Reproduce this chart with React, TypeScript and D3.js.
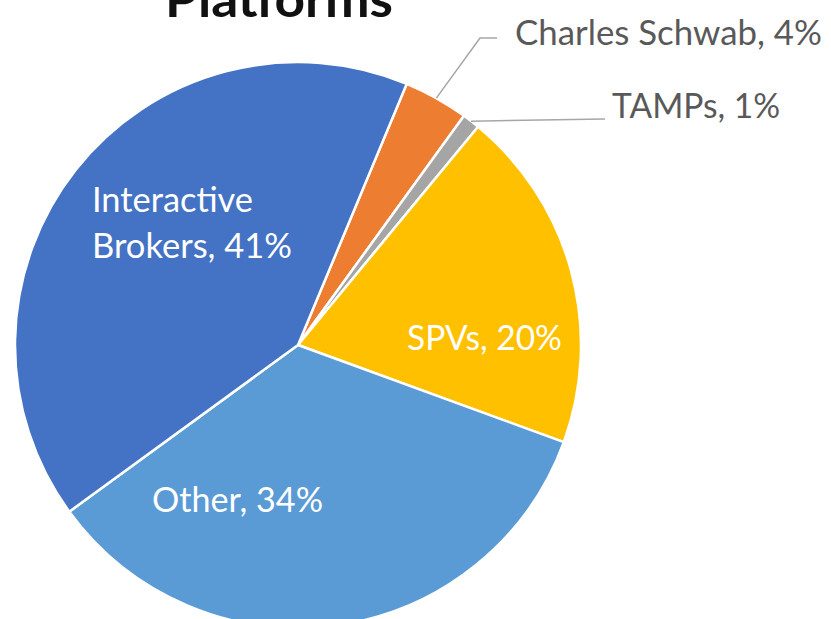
import React from "react";
import * as d3 from "d3";

const categories = ["Charles Schwab", "TAMPs", "SPVs", "Other", "Interactive Brokers"];
const values = [3.7, 1.0, 19.6, 34.4, 41.3];
const colors = ["#ED7D31", "#A5A5A5", "#FFC000", "#5B9BD5", "#4472C4"];
const titleText = "Platforms";

const W = 831;
const H = 619;
const cx = 298;
const cy = 345;
const R = 283;
const startDeg = 22.6;

// label layout: lines with left x, baseline y, width; inside flag; leader elbow
const labelLayout = [
  { lines: [{ x: 515, y: 45, w: 307 }], inside: false, leader: [[480, 38], [497, 38]] },
  { lines: [{ x: 612, y: 118, w: 168 }], inside: false, leader: [[605, 119]] },
  { lines: [{ x: 407, y: 350, w: 155 }], inside: true, leader: null },
  { lines: [{ x: 152, y: 512, w: 171 }], inside: true, leader: null },
  { lines: [{ x: 92, y: 212, w: 161 }, { x: 92, y: 258, w: 200 }], inside: true, leader: null },
];

export default function App() {
  const data = categories.map((c, i) => ({ name: c, value: values[i], color: colors[i] }));
  const start = (startDeg * Math.PI) / 180;
  const pie = d3
    .pie<any>()
    .value((d: any) => d.value)
    .sort(null)
    .startAngle(start)
    .endAngle(start + 2 * Math.PI);
  const arcs = pie(data);
  const arc = d3.arc<any>().innerRadius(0).outerRadius(R);
  const edgeArc = d3.arc<any>().innerRadius(R).outerRadius(R);

  const labelTexts = data.map((d) => {
    const pct = `${Math.round(d.value)}%`;
    if (d.name === "Interactive Brokers") return ["Interactive", `Brokers, ${pct}`];
    return [`${d.name}, ${pct}`];
  });

  return (
    <svg
      width={W}
      height={H}
      style={{ position: "absolute", left: 0, top: 0, background: "#fff" }}
      fontFamily="Lato, 'Open Sans', sans-serif"
    >
      <text
        x={165}
        y={17}
        fontSize={50}
        fontWeight="bold"
        fill="#111"
        textLength={228}
        lengthAdjust="spacingAndGlyphs"
      >
        {titleText}
      </text>
      <g transform={`translate(${cx},${cy})`}>
        {arcs.map((a, i) => (
          <path key={i} d={arc(a) as string} fill={a.data.color} stroke="#fff" strokeWidth={2.5} strokeLinejoin="round" />
        ))}
      </g>
      {arcs.map((a, i) => {
        const lay = labelLayout[i];
        if (!lay.leader) return null;
        const [sx, sy] = edgeArc.centroid(a);
        const pts = [[sx + cx, sy + cy], ...lay.leader];
        return (
          <polyline
            key={"l" + i}
            points={pts.map((p) => p.join(",")).join(" ")}
            fill="none"
            stroke="#A6A6A6"
            strokeWidth={1.5}
          />
        );
      })}
      {labelTexts.map((lines, i) => {
        const lay = labelLayout[i];
        return lines.map((t, j) => (
          <text
            key={`t${i}-${j}`}
            x={lay.lines[j].x}
            y={lay.lines[j].y}
            fontSize={35}
            fill={lay.inside ? "#ffffff" : "#595959"}
            textLength={lay.lines[j].w}
            lengthAdjust="spacingAndGlyphs"
          >
            {t}
          </text>
        ));
      })}
    </svg>
  );
}
